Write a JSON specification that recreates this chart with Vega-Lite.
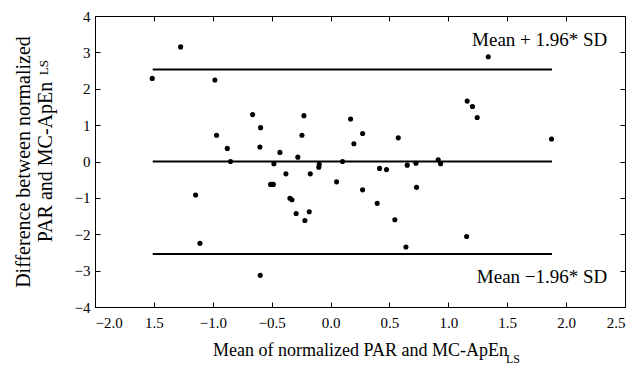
{
  "$schema": "https://vega.github.io/schema/vega-lite/v6.json",
  "width": 530,
  "height": 291,
  "autosize": {"type": "none"},
  "padding": {"left": 95, "top": 16, "right": 12, "bottom": 63},
  "background": "white",
  "config": {
    "font": "Liberation Serif",
    "view": {"stroke": "black", "strokeWidth": 1},
    "axis": {"grid": false, "domain": false, "tickColor": "black", "tickSize": -5, "labelColor": "black", "titleColor": "black", "labelFont": "Liberation Serif", "titleFont": "Liberation Serif", "labelFontSize": 15, "titleFontSize": 18, "titleFontWeight": "normal"}
  },
  "datasets": {
    "pts": [
      {"m": -1.514, "d": 2.285}, {"m": -1.273, "d": 3.15}, {"m": -0.982, "d": 2.24}, {"m": -0.662, "d": 1.29},
      {"m": -0.226, "d": 1.26}, {"m": 0.170, "d": 1.17}, {"m": -0.594, "d": 0.93}, {"m": -0.968, "d": 0.72},
      {"m": -0.243, "d": 0.72}, {"m": 0.272, "d": 0.77}, {"m": 0.198, "d": 0.49}, {"m": -0.877, "d": 0.36},
      {"m": -0.600, "d": 0.40}, {"m": -0.430, "d": 0.25}, {"m": -0.278, "d": 0.12}, {"m": -0.849, "d": 0.0},
      {"m": -0.481, "d": -0.06}, {"m": -0.096, "d": -0.08}, {"m": -0.10, "d": -0.16}, {"m": 0.102, "d": 0.0},
      {"m": 1.339, "d": 2.88}, {"m": 1.160, "d": 1.66}, {"m": 1.205, "d": 1.51}, {"m": 1.245, "d": 1.21},
      {"m": 0.575, "d": 0.65}, {"m": 1.876, "d": 0.62}, {"m": 0.914, "d": 0.05}, {"m": 0.416, "d": -0.19},
      {"m": 0.475, "d": -0.22}, {"m": 0.651, "d": -0.10}, {"m": 0.725, "d": -0.05}, {"m": 0.934, "d": -0.06},
      {"m": 0.272, "d": -0.78}, {"m": 0.730, "d": -0.71}, {"m": 0.396, "d": -1.15}, {"m": 0.546, "d": -1.60},
      {"m": 1.155, "d": -2.06}, {"m": 0.640, "d": -2.35}, {"m": -0.379, "d": -0.34}, {"m": -0.172, "d": -0.34},
      {"m": -0.509, "d": -0.63}, {"m": -0.486, "d": -0.63}, {"m": 0.051, "d": -0.56}, {"m": -1.146, "d": -0.92},
      {"m": -0.345, "d": -1.01}, {"m": -0.328, "d": -1.05}, {"m": -0.292, "d": -1.43}, {"m": -0.181, "d": -1.38},
      {"m": -0.218, "d": -1.62}, {"m": -1.109, "d": -2.25}, {"m": -0.597, "d": -3.13}
    ],
    "limits": [
      {"x1": -1.51, "x2": 1.88, "y": 2.53},
      {"x1": -1.51, "x2": 1.88, "y": 0},
      {"x1": -1.51, "x2": 1.88, "y": -2.54}
    ],
    "notes": [
      {"t": "Mean + 1.96* SD", "x": 2.35, "y": 3.18},
      {"t": "Mean −1.96* SD", "x": 2.35, "y": -3.33}
    ]
  },
  "layer": [
    {
      "data": {"name": "pts"},
      "mark": {"type": "point", "filled": true, "color": "black", "opacity": 1, "size": 26},
      "encoding": {
        "x": {"field": "m", "type": "quantitative", "scale": {"domain": [-2, 2.5], "nice": false, "zero": false},
          "axis": {"values": [-2, -1.5, -1, -0.5, 0, 0.5, 1, 1.5, 2, 2.5], "labelPadding": 13, "labelExpr": "datum.value == -1.5 ? '1.5' : datum.label", "title": "Mean of normalized PAR and MC-ApEn", "titlePadding": 11}},
        "y": {"field": "d", "type": "quantitative", "scale": {"domain": [-4, 4], "nice": false, "zero": false},
          "axis": {"values": [-4, -3, -2, -1, 0, 1, 2, 3, 4], "labelPadding": 10, "title": ["Difference between normalized", "PAR and MC-ApEn"], "titleFontSize": 20, "titlePadding": 19}}
      }
    },
    {
      "data": {"name": "limits"},
      "mark": {"type": "rule", "color": "black", "strokeWidth": 2},
      "encoding": {
        "x": {"field": "x1", "type": "quantitative", "axis": {"orient": "top", "labels": false, "title": null, "values": [-2, -1.5, -1, -0.5, 0, 0.5, 1, 1.5, 2, 2.5]}},
        "x2": {"field": "x2"},
        "y": {"field": "y", "type": "quantitative", "axis": {"orient": "right", "labels": false, "title": null, "values": [-4, -3, -2, -1, 0, 1, 2, 3, 4]}}
      }
    },
    {
      "data": {"name": "notes"},
      "mark": {"type": "text", "align": "right", "baseline": "alphabetic", "fontSize": 19, "color": "black"},
      "encoding": {
        "x": {"field": "x", "type": "quantitative", "axis": null},
        "y": {"field": "y", "type": "quantitative", "axis": null},
        "text": {"field": "t"}
      }
    },
    {
      "data": {"values": [{"t": "LS"}]},
      "mark": {"type": "text", "align": "left", "baseline": "alphabetic", "fontSize": 12, "color": "black", "clip": false},
      "encoding": {
        "x": {"datum": 1.49, "axis": null},
        "y": {"datum": -5.55, "axis": null},
        "text": {"field": "t"}
      }
    },
    {
      "data": {"values": [{"t": "LS"}]},
      "mark": {"type": "text", "align": "left", "baseline": "alphabetic", "fontSize": 13, "color": "black", "clip": false, "angle": 270},
      "encoding": {
        "x": {"datum": -2.395, "axis": null},
        "y": {"datum": 2.37, "axis": null},
        "text": {"field": "t"}
      }
    }
  ],
  "resolve": {"axis": {"x": "independent", "y": "independent"}}
}
